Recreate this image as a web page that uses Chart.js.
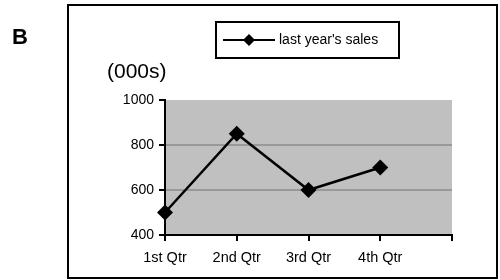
<!DOCTYPE html>
<html>
<head>
<meta charset="utf-8">
<script src="https://cdn.jsdelivr.net/npm/chart.js@4/dist/chart.umd.min.js"></script>
<style>
  html, body { margin: 0; padding: 0; background: #fff; }
</style>
</head>
<body>
<canvas id="chart" width="500" height="280"></canvas>
<script>
const quarters = ["1st Qtr", "2nd Qtr", "3rd Qtr", "4th Qtr", ""];
const lastYearSales = [500, 850, 600, 700];
const seriesName = "last year's sales";
const yTicks = [400, 600, 800, 1000];
const unitLabel = "(000s)";
const panelLetter = "B";

const FONT = "'Liberation Sans', Arial, sans-serif";

// grey plot area, outer frame, letter, unit label and boxed legend
const decorations = {
    id: "decorations",
    beforeDraw(chart) {
        const ctx = chart.ctx;
        const a = chart.chartArea;
        ctx.save();
        ctx.fillStyle = "#c0c0c0";
        ctx.fillRect(a.left, a.top, a.right - a.left, a.bottom - a.top);
        ctx.restore();
    },
    afterDraw(chart) {
        const ctx = chart.ctx;
        ctx.save();

        ctx.strokeStyle = "#000";
        ctx.lineWidth = 2;
        ctx.strokeRect(68, 5, 429, 273);

        ctx.fillStyle = "#000";
        ctx.font = "bold 22px " + FONT;
        ctx.textBaseline = "alphabetic";
        ctx.fillText(panelLetter, 12, 44);

        ctx.font = "21px " + FONT;
        ctx.textBaseline = "middle";
        ctx.fillText(unitLabel, 107, 72);

        // legend
        ctx.lineWidth = 2;
        ctx.strokeRect(216, 22, 183, 36);
        ctx.beginPath();
        ctx.moveTo(223, 40);
        ctx.lineTo(275, 40);
        ctx.stroke();
        ctx.beginPath();
        ctx.moveTo(249, 34);
        ctx.lineTo(255, 40);
        ctx.lineTo(249, 46);
        ctx.lineTo(243, 40);
        ctx.closePath();
        ctx.fill();
        ctx.font = "14px " + FONT;
        ctx.fillText(chart.data.datasets[0].label, 279, 40);

        ctx.restore();
    }
};

new Chart(document.getElementById("chart"), {
    type: "line",
    data: {
        labels: quarters,
        datasets: [{
            label: seriesName,
            data: lastYearSales,
            borderColor: "#000",
            borderWidth: 2.5,
            tension: 0,
            pointStyle: "rectRot",
            pointRadius: 8,
            pointBackgroundColor: "#000",
            pointBorderColor: "#000",
            pointBorderWidth: 0
        }]
    },
    options: {
        responsive: false,
        animation: false,
        layout: { padding: { left: 100, right: 48, top: 100, bottom: 15 } },
        plugins: {
            legend: { display: false },
            tooltip: { enabled: false }
        },
        scales: {
            x: {
                offset: false,
                afterFit(scale) { scale.height = 30; },
                border: { display: true, color: "#000", width: 2 },
                grid: {
                    drawOnChartArea: false,
                    tickLength: 6,
                    tickColor: "#000",
                    lineWidth: 2
                },
                ticks: {
                    color: "#000",
                    font: { family: FONT, size: 14.5 },
                    padding: 8,
                    maxRotation: 0,
                    autoSkip: false
                }
            },
            y: {
                min: 400,
                max: 1000,
                afterFit(scale) { scale.width = 65; },
                afterBuildTicks(scale) {
                    scale.ticks = yTicks.map(v => ({ value: v }));
                },
                border: { display: true, color: "#000", width: 2 },
                grid: {
                    color: ctx => (ctx.tick && (ctx.tick.value === 600 || ctx.tick.value === 800)) ? "#999" : "rgba(0,0,0,0)",
                    tickColor: "#000",
                    tickLength: 6,
                    lineWidth: 2
                },
                ticks: {
                    color: "#000",
                    font: { family: FONT, size: 14 },
                    padding: 5,
                    callback: v => String(v)
                }
            }
        }
    },
    plugins: [decorations]
});
</script>
</body>
</html>
